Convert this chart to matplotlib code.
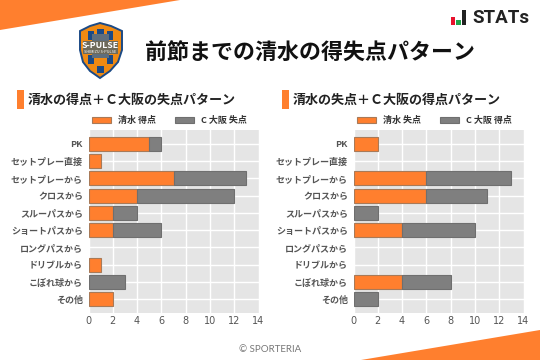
import matplotlib
matplotlib.use('Agg')
import matplotlib.pyplot as plt
from matplotlib.patches import Polygon, Rectangle

plt.rcParams['font.family'] = ['Noto Sans CJK JP', 'DejaVu Sans']

categories = ['PK', 'セットプレー直接', 'セットプレーから', 'クロスから', 'スルーパスから',
              'ショートパスから', 'ロングパスから', 'ドリブルから', 'こぼれ球から', 'その他']
shimizu_scored = [5, 1, 7, 4, 2, 2, 0, 1, 0, 2]
osaka_conceded = [1, 0, 6, 8, 2, 4, 0, 0, 3, 0]
shimizu_conceded = [2, 0, 6, 6, 0, 4, 0, 0, 4, 0]
osaka_scored = [0, 0, 7, 5, 2, 6, 0, 0, 4, 2]
x_ticks = [0, 2, 4, 6, 8, 10, 12, 14]

ORANGE = '#FF7F2E'
GREY = '#7F7F7F'
W, H = 540, 360

fig = plt.figure(figsize=(5.4, 3.6), dpi=100, facecolor='white')

# background layer in pixel coords
bg = fig.add_axes([0, 0, 1, 1])
bg.set_xlim(0, W)
bg.set_ylim(H, 0)
bg.axis('off')
bg.add_patch(Polygon([(0, 0), (180, 0), (0, 30)], color=ORANGE, lw=0))
bg.add_patch(Polygon([(361, 360), (540, 330), (540, 360)], color=ORANGE, lw=0))

# club badge
bg.add_patch(Polygon([(80, 31), (90, 26), (100, 23), (111, 26), (122, 31), (122, 50), (118, 62),
                      (110, 71), (100, 78), (90, 71), (83, 62), (80, 50)],
                     fc='#F08A12', ec='#1B4A86', lw=1.4))
for xy in [(88, 31, 6, 9), (107, 31, 6, 9), (97, 29, 7, 5), (88, 55, 6, 9), (107, 55, 6, 9), (97, 66, 7, 7)]:
    bg.add_patch(Rectangle(xy[:2], xy[2], xy[3], color='#1B4A86', lw=0))
bg.add_patch(Rectangle((92, 34), 17, 24, color='#5F6E7C', lw=0))
bg.add_patch(Rectangle((83, 41), 35, 13, color='#6E6A5A', lw=0))
bg.text(100.5, 45, 'S-PULSE', color='white', fontsize=6.3, fontweight='bold', ha='center', va='center')
bg.text(100.5, 52, 'SHIMIZU S-PULSE', color='white', fontsize=2.8, ha='center', va='center')

# STATs logo
bg.add_patch(Rectangle((450.5, 17), 4.5, 8, color='#E8112D', lw=0))
bg.add_patch(Rectangle((456, 19.5), 4.5, 5.5, color='#1FA34A', lw=0))
bg.add_patch(Rectangle((461.5, 10), 4.5, 15, color='#222222', lw=0))
bg.text(472, 18, 'STATs', color='#222222', fontsize=13.5, fontweight='bold',
        family='Roboto', va='center', ha='left')

bg.text(145, 53, '前節までの清水の得失点パターン', color='#111111', fontsize=15.8, fontweight='bold',
        va='center', ha='left')
bg.text(270, 350, '© SPORTERIA', color='#777777', fontsize=7, ha='center', va='center', family='Lato')

bg.add_patch(Rectangle((17, 90), 7, 19, color=ORANGE, lw=0))
bg.add_patch(Rectangle((282, 90), 7, 19, color=ORANGE, lw=0))
bg.text(28, 99.5, '清水の得点＋Ｃ大阪の失点パターン', color='#222222', fontsize=9.4, fontweight='bold',
        va='center', ha='left')
bg.text(293, 99.5, '清水の失点＋Ｃ大阪の得点パターン', color='#222222', fontsize=9.4, fontweight='bold',
        va='center', ha='left')


def draw_panel(left_px, first, second, first_label, second_label):
    ax = fig.add_axes([left_px / W, 1 - 313 / H, 170 / W, 183 / H])
    ypos = list(range(len(categories)))
    first_lw = [0.8 if v > 0 else 0 for v in first]
    second_lw = [0.8 if v > 0 else 0 for v in second]
    ax.barh(ypos, first, height=0.82, color=ORANGE, edgecolor='#A87A58', linewidth=first_lw,
            label=first_label, zorder=3)
    ax.barh(ypos, second, left=first, height=0.82, color=GREY, edgecolor='#6F6F6F', linewidth=second_lw,
            label=second_label, zorder=3)
    ax.set_facecolor('#E5E5E5')
    ax.set_xlim(0, 14)
    ax.set_ylim(9.8, -0.8)
    ax.set_xticks(x_ticks)
    ax.set_yticks(ypos)
    ax.set_yticklabels(categories, fontsize=6.5, fontweight='bold', color='#555555')
    ax.tick_params(axis='x', length=0, labelsize=7, labelcolor='#555555', pad=2.5)
    ax.tick_params(axis='y', length=0, pad=4)
    for label in ax.get_xticklabels():
        label.set_family('DejaVu Sans')
    ax.grid(True, color='white', linewidth=1, zorder=1)
    ax.set_axisbelow(True)
    for s in ax.spines.values():
        s.set_visible(False)
    leg = ax.legend(loc='lower center', bbox_to_anchor=(0.475, 1.015), ncol=2, frameon=False,
                    prop={'size': 6.5, 'weight': 'bold'}, labelcolor='#333333',
                    handlelength=2.1, handleheight=0.7, columnspacing=2.1, handletextpad=0.8,
                    borderaxespad=0.1, borderpad=0.1)
    for handle in leg.legend_handles:
        handle.set_linewidth(0.8)
    return ax


draw_panel(88.5, shimizu_scored, osaka_conceded, '清水 得点', 'C 大阪 失点')
draw_panel(353.5, shimizu_conceded, osaka_scored, '清水 失点', 'C 大阪 得点')

fig.savefig('out.png', dpi=100)
